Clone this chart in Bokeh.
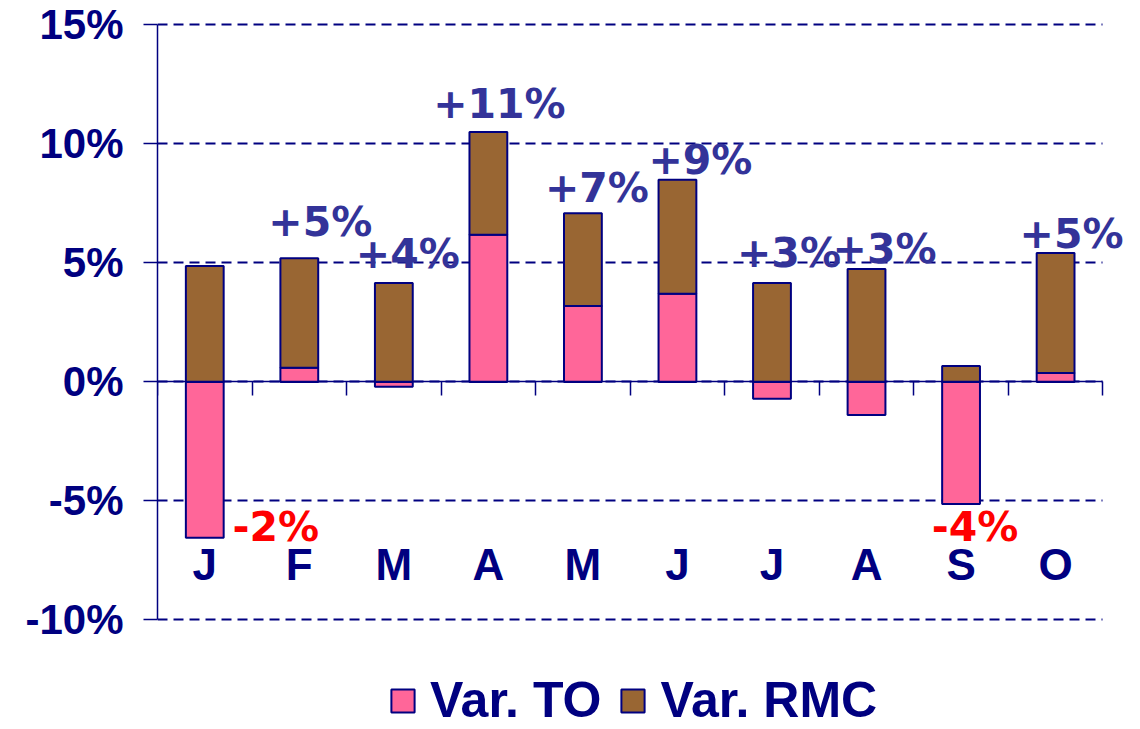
import numpy as np
from bokeh.plotting import figure
from bokeh.models import (ColumnDataSource, LinearAxis, FixedTicker, LabelSet,
                          Legend, LegendItem, Range1d, Grid)
from bokeh.core.properties import value
from bokeh.embed import file_html
from bokeh.resources import INLINE

# ---- data ----
months = ["J", "F", "M", "A", "M", "J", "J", "A", "S", "O"]
var_to = [-6.55, 0.60, -0.20, 6.18, 3.19, 3.70, -0.71, -1.39, -5.13, 0.38]
var_rmc = [4.87, 4.60, 4.16, 4.32, 3.90, 4.79, 4.16, 4.75, 0.67, 5.04]
total_labels = ["-2%", "+5%", "+4%", "+11%", "+7%", "+9%", "+3%", "+3%", "-4%", "+5%"]
y_ticks = [-10, -5, 0, 5, 10, 15]
y_tick_labels = ["-10%", "-5%", "0%", "5%", "10%", "15%"]
series_names = ["Var. TO", "Var. RMC"]

# ---- layout tweaks for the value labels (pixels) ----
label_dx = [71, 21, 14, 11, 14, 23, 17, 18, 14, 16]
label_dy = [-3, 22, 15, 14, 11, 6, 16, 6, -37, 5]

NAVY = "#000080"
PINK = "#FF6699"
BROWN = "#996633"
BLUE_LBL = "#333399"
RED_LBL = "#FF0000"

n = len(months)
x = np.arange(n) + 0.5
to = np.array(var_to)
rmc = np.array(var_rmc)
rmc_bottom = np.maximum(to, 0)
rmc_top = rmc_bottom + rmc
total = to + rmc

src = ColumnDataSource(dict(x=x, to=to, rmc_bottom=rmc_bottom, rmc_top=rmc_top))

anchor = np.where(total >= 0, rmc_top, np.minimum(to, 0))
lbl_src = ColumnDataSource(dict(
    lx=x, ly=anchor, text=total_labels,
    color=[BLUE_LBL if t >= 0 else RED_LBL for t in total],
    dx=label_dx, dy=label_dy))

ymin, ymax = y_ticks[0], y_ticks[-1]
# the frame reaches down to the page bottom so that the legend lies inside it
p = figure(width=1140, height=729,
           x_range=Range1d(0, n + 0.25), y_range=Range1d(-14.6, ymax + 0.1),
           output_backend="svg", toolbar_location=None,
           x_axis_type=None, y_axis_type=None,
           min_border_left=157, min_border_right=14, min_border_top=22,
           min_border_bottom=0)
p.outline_line_color = None
p.background_fill_color = "white"
p.border_fill_color = "white"

grid = Grid(dimension=1, ticker=FixedTicker(ticks=y_ticks), cross_bounds=(0, n),
            grid_line_color=NAVY, grid_line_dash="10 6", grid_line_width=2)
p.add_layout(grid)

r_to = p.vbar(x="x", width=0.4, bottom=0, top="to", source=src,
              fill_color=PINK, line_color=NAVY, line_width=2)
r_rmc = p.vbar(x="x", width=0.4, bottom="rmc_bottom", top="rmc_top", source=src,
               fill_color=BROWN, line_color=NAVY, line_width=2)

yaxis = LinearAxis(ticker=FixedTicker(ticks=y_ticks), bounds=(ymin, ymax),
                   major_label_overrides={t: l for t, l in zip(y_ticks, y_tick_labels)},
                   major_tick_out=14, major_tick_in=0,
                   minor_tick_out=0, minor_tick_in=0,
                   axis_line_color=NAVY, axis_line_width=1.5,
                   major_tick_line_color=NAVY, major_tick_line_width=1.5,
                   major_label_standoff=20,
                   major_label_text_font="Liberation Sans",
                   major_label_text_font_style="bold",
                   major_label_text_font_size="42px",
                   major_label_text_color=NAVY)
p.add_layout(yaxis, "left")

bounds_ticks = list(range(n + 1))
xaxis_ticks = LinearAxis(fixed_location=0, bounds=(0, n),
                         ticker=FixedTicker(ticks=bounds_ticks),
                         major_label_overrides={t: "" for t in bounds_ticks},
                         major_tick_out=14, major_tick_in=0,
                         minor_tick_out=0, minor_tick_in=0,
                         axis_line_color=NAVY, axis_line_width=1.5,
                         major_tick_line_color=NAVY, major_tick_line_width=1.5)
p.add_layout(xaxis_ticks, "below")

xaxis_months = LinearAxis(fixed_location=0, ticker=FixedTicker(ticks=list(x)),
                          major_label_overrides={float(xi): m for xi, m in zip(x, months)},
                          axis_line_color=None, major_tick_line_color=None,
                          minor_tick_line_color=None,
                          major_label_standoff=152,
                          major_label_text_font="Liberation Sans",
                          major_label_text_font_style="bold",
                          major_label_text_font_size="44px",
                          major_label_text_color=NAVY)
p.add_layout(xaxis_months, "below")

labels = LabelSet(x="lx", y="ly", text="text", x_offset="dx", y_offset="dy",
                  text_color="color", source=lbl_src,
                  text_font=value("DejaVu Sans"), text_font_style="bold",
                  text_font_size="41px", text_align="center",
                  text_baseline="alphabetic")
p.add_layout(labels)

legend = Legend(items=[LegendItem(label=series_names[0], renderers=[r_to]),
                       LegendItem(label=series_names[1], renderers=[r_rmc])],
                location=(231, 0), orientation="horizontal",
                glyph_width=29, glyph_height=29, label_standoff=13, spacing=17,
                padding=0, margin=0, border_line_color=None,
                background_fill_alpha=0,
                label_text_font="Liberation Sans", label_text_font_style="bold",
                label_text_font_size="50px", label_text_color=NAVY)
p.add_layout(legend)

open("out.html", "w").write(file_html(p, INLINE))
